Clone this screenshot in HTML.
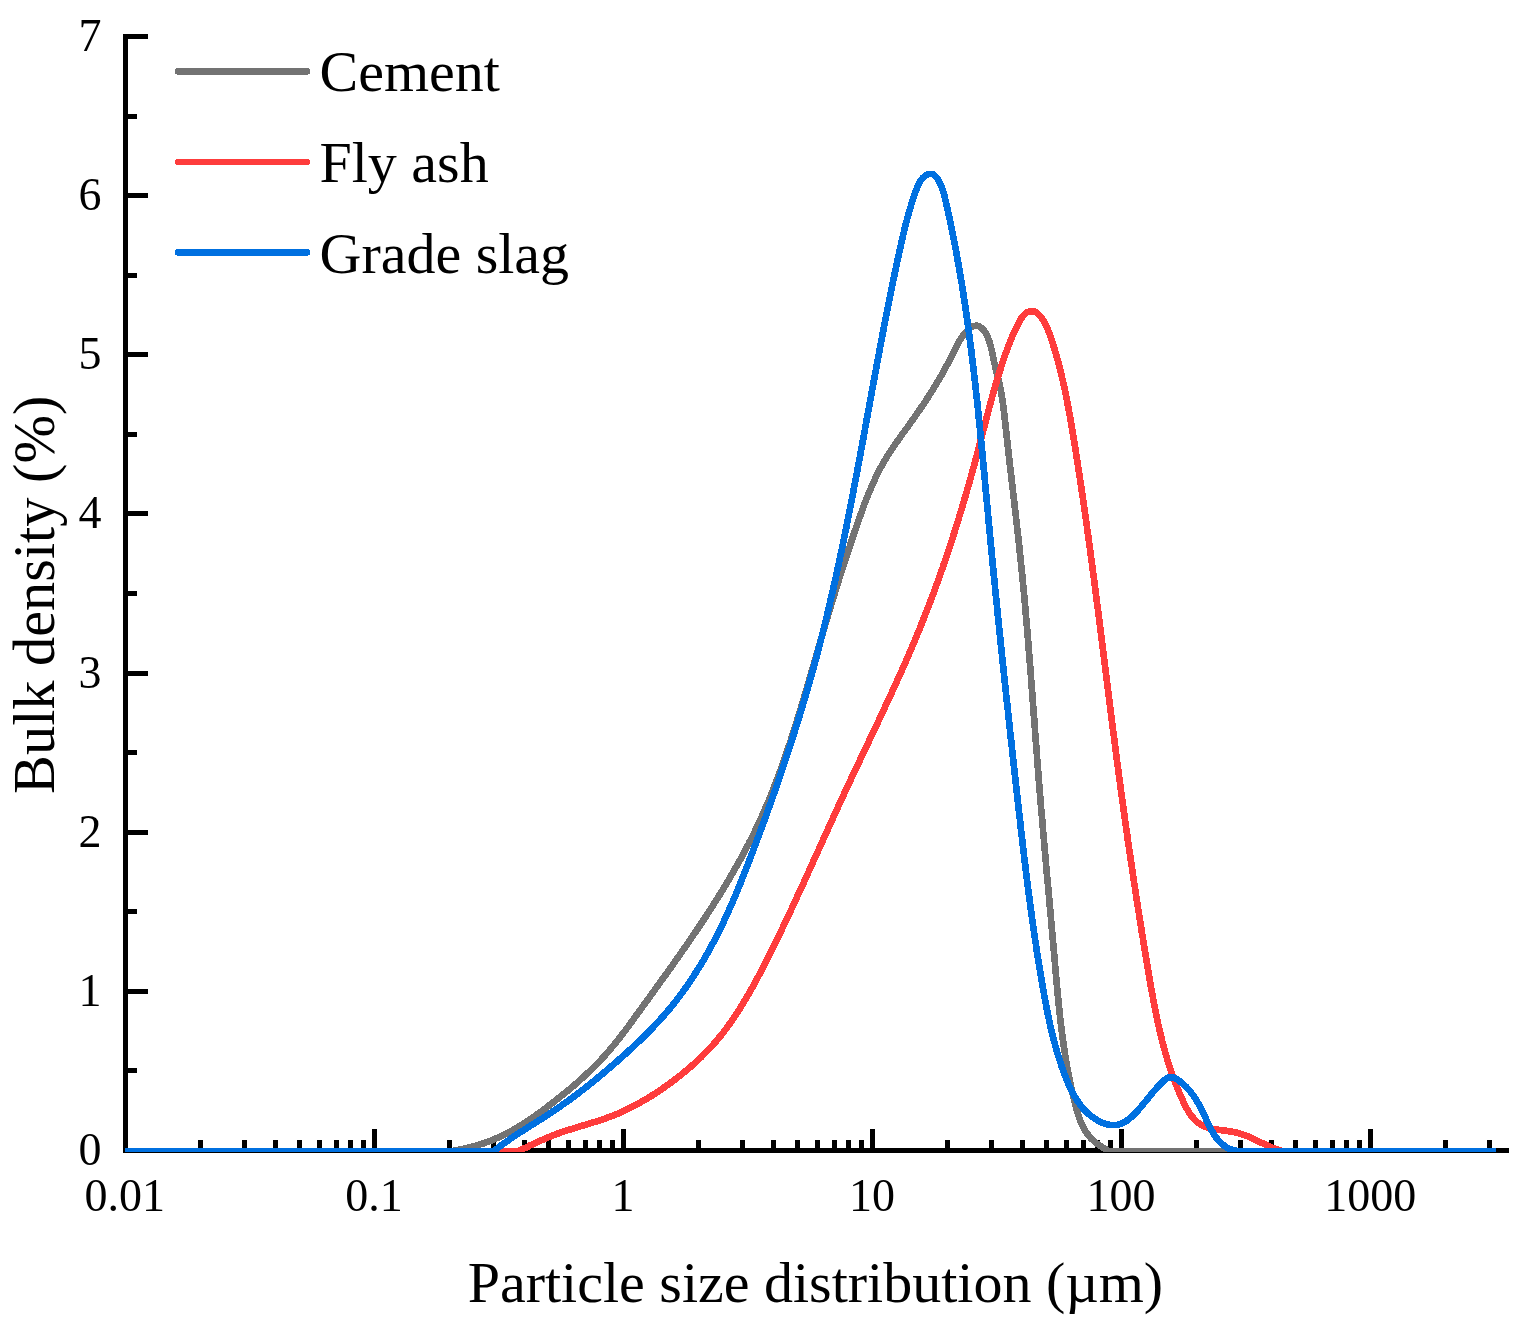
<!DOCTYPE html>
<html><head><meta charset="utf-8"><title>Particle size distribution</title>
<style>html,body{margin:0;padding:0;background:#fff;} svg{display:block;}</style></head>
<body><svg width="1525" height="1329" viewBox="0 0 1525 1329">
<rect width="1525" height="1329" fill="#fff"/>
<g fill="#000" shape-rendering="crispEdges">
<rect x="123" y="34" width="5" height="1119"/>
<rect x="123" y="1148" width="1386" height="5"/>
<rect x="128" y="1148.0" width="20" height="5"/>
<rect x="128" y="988.8" width="20" height="5"/>
<rect x="128" y="829.7" width="20" height="5"/>
<rect x="128" y="670.5" width="20" height="5"/>
<rect x="128" y="511.4" width="20" height="5"/>
<rect x="128" y="352.2" width="20" height="5"/>
<rect x="128" y="193.0" width="20" height="5"/>
<rect x="128" y="33.9" width="20" height="5"/>
<rect x="128" y="1068.4" width="9" height="5"/>
<rect x="128" y="909.3" width="9" height="5"/>
<rect x="128" y="750.1" width="9" height="5"/>
<rect x="128" y="590.9" width="9" height="5"/>
<rect x="128" y="431.8" width="9" height="5"/>
<rect x="128" y="272.6" width="9" height="5"/>
<rect x="128" y="113.5" width="9" height="5"/>
<rect x="198.0" y="1140" width="5" height="8"/>
<rect x="241.8" y="1140" width="5" height="8"/>
<rect x="273.0" y="1140" width="5" height="8"/>
<rect x="297.1" y="1140" width="5" height="8"/>
<rect x="316.8" y="1140" width="5" height="8"/>
<rect x="333.5" y="1140" width="5" height="8"/>
<rect x="347.9" y="1140" width="5" height="8"/>
<rect x="360.7" y="1140" width="5" height="8"/>
<rect x="372.1" y="1129" width="5" height="19"/>
<rect x="447.1" y="1140" width="5" height="8"/>
<rect x="490.9" y="1140" width="5" height="8"/>
<rect x="522.0" y="1140" width="5" height="8"/>
<rect x="546.2" y="1140" width="5" height="8"/>
<rect x="565.9" y="1140" width="5" height="8"/>
<rect x="582.6" y="1140" width="5" height="8"/>
<rect x="597.0" y="1140" width="5" height="8"/>
<rect x="609.8" y="1140" width="5" height="8"/>
<rect x="621.2" y="1129" width="5" height="19"/>
<rect x="696.1" y="1140" width="5" height="8"/>
<rect x="740.0" y="1140" width="5" height="8"/>
<rect x="771.1" y="1140" width="5" height="8"/>
<rect x="795.3" y="1140" width="5" height="8"/>
<rect x="815.0" y="1140" width="5" height="8"/>
<rect x="831.7" y="1140" width="5" height="8"/>
<rect x="846.1" y="1140" width="5" height="8"/>
<rect x="858.8" y="1140" width="5" height="8"/>
<rect x="870.2" y="1129" width="5" height="19"/>
<rect x="945.2" y="1140" width="5" height="8"/>
<rect x="989.1" y="1140" width="5" height="8"/>
<rect x="1020.2" y="1140" width="5" height="8"/>
<rect x="1044.3" y="1140" width="5" height="8"/>
<rect x="1064.1" y="1140" width="5" height="8"/>
<rect x="1080.7" y="1140" width="5" height="8"/>
<rect x="1095.2" y="1140" width="5" height="8"/>
<rect x="1107.9" y="1140" width="5" height="8"/>
<rect x="1119.3" y="1129" width="5" height="19"/>
<rect x="1194.3" y="1140" width="5" height="8"/>
<rect x="1238.2" y="1140" width="5" height="8"/>
<rect x="1269.3" y="1140" width="5" height="8"/>
<rect x="1293.4" y="1140" width="5" height="8"/>
<rect x="1313.1" y="1140" width="5" height="8"/>
<rect x="1329.8" y="1140" width="5" height="8"/>
<rect x="1344.3" y="1140" width="5" height="8"/>
<rect x="1357.0" y="1140" width="5" height="8"/>
<rect x="1368.4" y="1129" width="5" height="19"/>
<rect x="1443.4" y="1140" width="5" height="8"/>
<rect x="1487.2" y="1140" width="5" height="8"/>
</g>
<g font-family="&quot;Liberation Serif&quot;, serif" font-size="46" fill="#000">
<text x="101.5" y="1165.0" text-anchor="end">0</text>
<text x="101.5" y="1005.8" text-anchor="end">1</text>
<text x="101.5" y="846.7" text-anchor="end">2</text>
<text x="101.5" y="687.5" text-anchor="end">3</text>
<text x="101.5" y="528.4" text-anchor="end">4</text>
<text x="101.5" y="369.2" text-anchor="end">5</text>
<text x="101.5" y="210.0" text-anchor="end">6</text>
<text x="101.5" y="50.9" text-anchor="end">7</text>
<text x="124.8" y="1210.5" text-anchor="middle">0.01</text>
<text x="373.9" y="1210.5" text-anchor="middle">0.1</text>
<text x="623.0" y="1210.5" text-anchor="middle">1</text>
<text x="872.0" y="1210.5" text-anchor="middle">10</text>
<text x="1121.1" y="1210.5" text-anchor="middle">100</text>
<text x="1370.2" y="1210.5" text-anchor="middle">1000</text>
</g>
<text x="467.7" y="1302" font-family="&quot;Liberation Serif&quot;, serif" font-size="58">Particle size distribution (µm)</text>
<text transform="translate(54,793.9) rotate(-90)" font-family="&quot;Liberation Serif&quot;, serif" font-size="58.3">Bulk density (%)</text>
<defs><clipPath id="pc"><rect x="125" y="0" width="1400" height="1152"/></clipPath></defs>
<g fill="none" stroke-width="6.7" stroke-linejoin="round" stroke-linecap="butt" clip-path="url(#pc)" shape-rendering="crispEdges">
<path d="M125.0,1151.0 L452.0,1151.0 L452.0,1151.0 L453.5,1150.8 L455.1,1150.5 L456.6,1150.2 L458.1,1149.9 L459.7,1149.6 L461.2,1149.3 L462.7,1149.0 L464.2,1148.7 L465.7,1148.3 L467.3,1148.0 L468.8,1147.6 L470.3,1147.2 L471.8,1146.9 L473.3,1146.4 L474.8,1146.0 L476.3,1145.6 L477.8,1145.2 L479.3,1144.7 L480.7,1144.2 L482.2,1143.8 L483.7,1143.3 L485.1,1142.8 L486.6,1142.2 L488.1,1141.7 L489.5,1141.2 L491.0,1140.6 L492.4,1140.0 L493.8,1139.4 L495.3,1138.8 L496.7,1138.2 L498.1,1137.6 L499.5,1137.0 L500.9,1136.3 L502.3,1135.6 L503.7,1135.0 L505.1,1134.3 L506.5,1133.6 L507.8,1132.9 L509.2,1132.1 L510.5,1131.4 L511.9,1130.7 L513.2,1129.9 L514.6,1129.1 L515.9,1128.3 L517.3,1127.6 L518.6,1126.8 L519.9,1125.9 L521.2,1125.1 L522.5,1124.3 L523.9,1123.5 L525.2,1122.6 L526.5,1121.8 L527.8,1120.9 L529.0,1120.0 L530.3,1119.2 L531.6,1118.3 L532.9,1117.4 L534.2,1116.5 L535.4,1115.6 L536.7,1114.7 L538.0,1113.8 L539.2,1112.9 L540.5,1111.9 L541.8,1111.0 L543.0,1110.1 L544.3,1109.2 L545.5,1108.2 L546.7,1107.3 L548.0,1106.3 L549.2,1105.4 L550.5,1104.4 L551.7,1103.5 L552.9,1102.5 L554.2,1101.6 L555.4,1100.6 L556.6,1099.7 L557.8,1098.7 L559.1,1097.7 L560.3,1096.7 L561.5,1095.8 L562.7,1094.8 L563.9,1093.8 L565.1,1092.8 L566.3,1091.8 L567.5,1090.9 L568.7,1089.9 L569.9,1088.9 L571.1,1087.9 L572.3,1086.9 L573.5,1085.9 L574.7,1084.8 L575.8,1083.8 L577.0,1082.8 L578.2,1081.8 L579.3,1080.8 L580.5,1079.7 L581.6,1078.7 L582.8,1077.6 L583.9,1076.6 L585.1,1075.6 L586.2,1074.5 L587.3,1073.4 L588.4,1072.4 L589.6,1071.3 L590.7,1070.2 L591.8,1069.2 L592.9,1068.1 L594.0,1067.0 L595.1,1065.9 L596.2,1064.8 L597.2,1063.7 L598.3,1062.6 L599.4,1061.4 L600.5,1060.3 L601.5,1059.2 L602.6,1058.1 L603.6,1056.9 L604.6,1055.8 L605.7,1054.6 L606.7,1053.5 L607.7,1052.3 L608.7,1051.1 L609.7,1050.0 L610.7,1048.8 L611.7,1047.6 L612.7,1046.4 L613.7,1045.2 L614.7,1044.0 L615.7,1042.8 L616.6,1041.6 L617.6,1040.4 L618.6,1039.2 L619.5,1037.9 L620.5,1036.7 L621.4,1035.5 L622.4,1034.2 L623.3,1033.0 L624.3,1031.8 L625.2,1030.5 L626.1,1029.3 L627.1,1028.0 L628.0,1026.8 L628.9,1025.5 L629.8,1024.3 L630.8,1023.0 L631.7,1021.8 L632.6,1020.5 L633.5,1019.3 L634.4,1018.0 L635.3,1016.8 L636.2,1015.5 L637.2,1014.2 L638.1,1013.0 L639.0,1011.7 L639.9,1010.4 L640.8,1009.2 L641.7,1007.9 L642.6,1006.7 L643.5,1005.4 L644.5,1004.1 L645.4,1002.9 L646.3,1001.6 L647.2,1000.4 L648.1,999.1 L649.0,997.8 L649.9,996.6 L650.8,995.3 L651.7,994.1 L652.7,992.8 L653.6,991.5 L654.5,990.3 L655.4,989.0 L656.3,987.8 L657.2,986.5 L658.1,985.2 L659.0,984.0 L659.9,982.7 L660.8,981.5 L661.7,980.2 L662.6,978.9 L663.5,977.7 L664.4,976.4 L665.4,975.2 L666.3,973.9 L667.2,972.6 L668.1,971.4 L669.0,970.1 L669.9,968.8 L670.8,967.6 L671.7,966.3 L672.6,965.0 L673.5,963.8 L674.3,962.5 L675.2,961.2 L676.1,960.0 L677.0,958.7 L677.9,957.4 L678.8,956.2 L679.7,954.9 L680.6,953.6 L681.5,952.4 L682.4,951.1 L683.3,949.8 L684.1,948.5 L685.0,947.3 L685.9,946.0 L686.8,944.7 L687.7,943.4 L688.6,942.2 L689.4,940.9 L690.3,939.6 L691.2,938.3 L692.1,937.0 L692.9,935.7 L693.8,934.5 L694.7,933.2 L695.6,931.9 L696.4,930.6 L697.3,929.3 L698.2,928.0 L699.0,926.7 L699.9,925.4 L700.7,924.2 L701.6,922.9 L702.5,921.6 L703.3,920.3 L704.2,919.0 L705.0,917.7 L705.9,916.4 L706.7,915.1 L707.6,913.8 L708.4,912.5 L709.3,911.2 L710.1,909.8 L710.9,908.5 L711.8,907.2 L712.6,905.9 L713.5,904.6 L714.3,903.3 L715.1,902.0 L715.9,900.7 L716.8,899.3 L717.6,898.0 L718.4,896.7 L719.2,895.4 L720.1,894.1 L720.9,892.7 L721.7,891.4 L722.5,890.1 L723.3,888.7 L724.1,887.4 L724.9,886.1 L725.7,884.8 L726.5,883.4 L727.3,882.1 L728.1,880.7 L728.9,879.4 L729.7,878.1 L730.5,876.7 L731.3,875.4 L732.0,874.0 L732.8,872.7 L733.6,871.3 L734.4,870.0 L735.1,868.6 L735.9,867.3 L736.7,865.9 L737.4,864.6 L738.2,863.2 L739.0,861.8 L739.7,860.5 L740.5,859.1 L741.2,857.8 L741.9,856.4 L742.7,855.0 L743.4,853.6 L744.2,852.3 L744.9,850.9 L745.6,849.5 L746.3,848.2 L747.1,846.8 L747.8,845.4 L748.5,844.0 L749.2,842.6 L749.9,841.2 L750.6,839.9 L751.3,838.5 L752.0,837.1 L752.7,835.7 L753.4,834.3 L754.1,832.9 L754.8,831.5 L755.4,830.1 L756.1,828.7 L756.8,827.3 L757.4,825.9 L758.1,824.5 L758.8,823.1 L759.4,821.7 L760.1,820.3 L760.7,818.9 L761.4,817.5 L762.0,816.1 L762.6,814.6 L763.3,813.2 L763.9,811.8 L764.5,810.4 L765.1,809.0 L765.7,807.5 L766.4,806.1 L767.0,804.7 L767.6,803.2 L768.2,801.8 L768.8,800.4 L769.4,799.0 L769.9,797.5 L770.5,796.1 L771.1,794.6 L771.7,793.2 L772.3,791.8 L772.8,790.3 L773.4,788.9 L774.0,787.4 L774.5,786.0 L775.1,784.5 L775.7,783.1 L776.2,781.6 L776.8,780.2 L777.3,778.7 L777.9,777.3 L778.4,775.8 L778.9,774.4 L779.5,772.9 L780.0,771.5 L780.6,770.0 L781.1,768.5 L781.6,767.1 L782.1,765.6 L782.7,764.2 L783.2,762.7 L783.7,761.2 L784.2,759.8 L784.7,758.3 L785.2,756.8 L785.7,755.4 L786.2,753.9 L786.7,752.4 L787.2,751.0 L787.7,749.5 L788.2,748.0 L788.7,746.5 L789.2,745.1 L789.7,743.6 L790.2,742.1 L790.7,740.6 L791.1,739.2 L791.6,737.7 L792.1,736.2 L792.6,734.7 L793.1,733.2 L793.5,731.8 L794.0,730.3 L794.5,728.8 L794.9,727.3 L795.4,725.8 L795.9,724.3 L796.3,722.9 L796.8,721.4 L797.3,719.9 L797.7,718.4 L798.2,716.9 L798.6,715.4 L799.1,713.9 L799.6,712.5 L800.0,711.0 L800.5,709.5 L800.9,708.0 L801.4,706.5 L801.8,705.0 L802.3,703.5 L802.7,702.0 L803.2,700.5 L803.6,699.0 L804.0,697.6 L804.5,696.1 L804.9,694.6 L805.4,693.1 L805.8,691.6 L806.3,690.1 L806.7,688.6 L807.1,687.1 L807.6,685.6 L808.0,684.1 L808.4,682.6 L808.9,681.1 L809.3,679.7 L809.8,678.2 L810.2,676.7 L810.6,675.2 L811.1,673.7 L811.5,672.2 L811.9,670.7 L812.4,669.2 L812.8,667.7 L813.2,666.2 L813.7,664.7 L814.1,663.2 L814.5,661.7 L815.0,660.2 L815.4,658.8 L815.8,657.3 L816.2,655.8 L816.7,654.3 L817.1,652.8 L817.5,651.3 L818.0,649.8 L818.4,648.3 L818.8,646.8 L819.3,645.3 L819.7,643.8 L820.1,642.3 L820.6,640.8 L821.0,639.4 L821.4,637.9 L821.9,636.4 L822.3,634.9 L822.7,633.4 L823.2,631.9 L823.6,630.4 L824.0,628.9 L824.5,627.4 L824.9,625.9 L825.3,624.4 L825.8,623.0 L826.2,621.5 L826.7,620.0 L827.1,618.5 L827.5,617.0 L828.0,615.5 L828.4,614.0 L828.9,612.5 L829.3,611.1 L829.8,609.6 L830.2,608.1 L830.7,606.6 L831.1,605.1 L831.5,603.6 L832.0,602.2 L832.4,600.7 L832.9,599.2 L833.4,597.7 L833.8,596.2 L834.3,594.7 L834.7,593.3 L835.2,591.8 L835.6,590.3 L836.1,588.8 L836.5,587.3 L837.0,585.9 L837.5,584.4 L837.9,582.9 L838.4,581.4 L838.9,579.9 L839.3,578.5 L839.8,577.0 L840.3,575.5 L840.7,574.0 L841.2,572.6 L841.7,571.1 L842.1,569.6 L842.6,568.1 L843.1,566.6 L843.6,565.2 L844.1,563.7 L844.5,562.2 L845.0,560.7 L845.5,559.3 L846.0,557.8 L846.5,556.3 L846.9,554.8 L847.4,553.4 L847.9,551.9 L848.4,550.4 L848.9,548.9 L849.4,547.5 L849.9,546.0 L850.4,544.5 L850.8,543.0 L851.3,541.6 L851.8,540.1 L852.3,538.6 L852.8,537.1 L853.3,535.6 L853.8,534.2 L854.3,532.7 L854.8,531.2 L855.3,529.7 L855.8,528.3 L856.3,526.8 L856.8,525.3 L857.4,523.8 L857.9,522.4 L858.4,520.9 L858.9,519.4 L859.4,517.9 L859.9,516.5 L860.5,515.0 L861.0,513.5 L861.5,512.1 L862.1,510.6 L862.6,509.1 L863.1,507.7 L863.7,506.2 L864.2,504.7 L864.8,503.3 L865.3,501.8 L865.9,500.4 L866.5,498.9 L867.0,497.5 L867.6,496.0 L868.2,494.6 L868.8,493.1 L869.4,491.7 L870.0,490.3 L870.6,488.8 L871.2,487.4 L871.8,486.0 L872.5,484.6 L873.1,483.1 L873.8,481.7 L874.4,480.3 L875.1,478.9 L875.7,477.5 L876.4,476.1 L877.1,474.7 L877.8,473.3 L878.5,472.0 L879.2,470.6 L879.9,469.2 L880.6,467.8 L881.3,466.5 L882.1,465.1 L882.8,463.8 L883.6,462.4 L884.4,461.1 L885.2,459.8 L886.0,458.4 L886.8,457.1 L887.6,455.8 L888.4,454.5 L889.2,453.2 L890.1,451.9 L890.9,450.6 L891.8,449.3 L892.6,448.0 L893.5,446.7 L894.3,445.5 L895.2,444.2 L896.1,442.9 L897.0,441.6 L897.9,440.4 L898.8,439.1 L899.7,437.8 L900.6,436.6 L901.5,435.3 L902.4,434.1 L903.3,432.8 L904.2,431.5 L905.1,430.3 L906.0,429.0 L907.0,427.8 L907.9,426.5 L908.8,425.2 L909.7,424.0 L910.6,422.7 L911.5,421.4 L912.4,420.2 L913.3,418.9 L914.2,417.6 L915.1,416.3 L916.0,415.0 L916.9,413.8 L917.8,412.5 L918.7,411.2 L919.6,409.9 L920.5,408.6 L921.3,407.3 L922.2,406.0 L923.1,404.7 L924.0,403.4 L924.8,402.1 L925.7,400.8 L926.5,399.5 L927.4,398.2 L928.2,396.9 L929.1,395.6 L929.9,394.3 L930.7,393.0 L931.6,391.6 L932.4,390.3 L933.2,389.0 L934.0,387.7 L934.8,386.4 L935.6,385.1 L936.4,383.7 L937.2,382.4 L938.0,381.1 L938.8,379.8 L939.5,378.5 L940.3,377.1 L941.1,375.8 L941.8,374.5 L942.6,373.2 L943.3,371.8 L944.0,370.5 L944.8,369.1 L945.5,367.8 L946.2,366.5 L947.0,365.1 L947.7,363.7 L948.4,362.4 L949.1,361.0 L949.8,359.6 L950.5,358.2 L951.3,356.8 L952.0,355.4 L952.7,354.0 L953.4,352.5 L954.1,351.1 L954.8,349.7 L955.5,348.2 L956.3,346.8 L957.0,345.4 L957.8,343.9 L958.5,342.5 L959.4,341.1 L960.2,339.8 L961.0,338.4 L961.9,337.1 L962.8,335.8 L963.8,334.5 L964.8,333.3 L965.8,332.1 L966.9,330.9 L968.0,329.8 L969.1,328.8 L970.3,327.9 L971.5,327.1 L973.9,326.0 L976.4,325.6 L978.8,326.2 L981.1,327.7 L982.2,328.6 L983.3,329.8 L984.3,331.0 L985.2,332.4 L986.0,333.8 L986.8,335.3 L987.6,336.9 L988.2,338.5 L988.9,340.0 L989.4,341.6 L989.9,343.1 L990.3,344.7 L990.7,346.2 L991.1,347.7 L991.5,349.3 L991.8,350.8 L992.1,352.3 L992.4,353.8 L992.7,355.3 L993.0,356.8 L993.3,358.3 L993.6,359.8 L994.0,361.3 L994.3,362.8 L994.7,364.3 L995.0,365.8 L995.4,367.3 L995.8,368.9 L996.1,370.4 L996.5,371.9 L996.9,373.4 L997.2,374.9 L997.6,376.4 L998.0,377.9 L998.4,379.4 L998.7,380.9 L999.1,382.4 L999.4,383.9 L999.8,385.5 L1000.1,387.0 L1000.4,388.5 L1000.7,390.0 L1001.0,391.5 L1001.3,393.1 L1001.6,394.6 L1001.8,396.1 L1002.1,397.7 L1002.3,399.2 L1002.5,400.7 L1002.8,402.3 L1003.0,403.8 L1003.2,405.3 L1003.4,406.9 L1003.6,408.4 L1003.8,410.0 L1004.0,411.5 L1004.2,413.0 L1004.3,414.6 L1004.5,416.1 L1004.7,417.7 L1004.8,419.2 L1005.0,420.8 L1005.2,422.3 L1005.3,423.9 L1005.5,425.4 L1005.7,426.9 L1005.8,428.5 L1006.0,430.0 L1006.2,431.6 L1006.3,433.1 L1006.5,434.7 L1006.7,436.2 L1006.9,437.8 L1007.0,439.3 L1007.2,440.8 L1007.4,442.4 L1007.5,443.9 L1007.7,445.5 L1007.9,447.0 L1008.1,448.6 L1008.2,450.1 L1008.4,451.7 L1008.6,453.2 L1008.8,454.7 L1008.9,456.3 L1009.1,457.8 L1009.3,459.4 L1009.5,460.9 L1009.7,462.5 L1009.8,464.0 L1010.0,465.5 L1010.2,467.1 L1010.4,468.6 L1010.5,470.2 L1010.7,471.7 L1010.9,473.3 L1011.1,474.8 L1011.3,476.4 L1011.4,477.9 L1011.6,479.4 L1011.8,481.0 L1012.0,482.5 L1012.2,484.1 L1012.3,485.6 L1012.5,487.2 L1012.7,488.7 L1012.9,490.2 L1013.0,491.8 L1013.2,493.3 L1013.4,494.9 L1013.6,496.4 L1013.8,498.0 L1013.9,499.5 L1014.1,501.1 L1014.3,502.6 L1014.5,504.1 L1014.7,505.7 L1014.8,507.2 L1015.0,508.8 L1015.2,510.3 L1015.4,511.9 L1015.5,513.4 L1015.7,514.9 L1015.9,516.5 L1016.1,518.0 L1016.2,519.6 L1016.4,521.1 L1016.6,522.7 L1016.8,524.2 L1016.9,525.8 L1017.1,527.3 L1017.3,528.8 L1017.5,530.4 L1017.6,531.9 L1017.8,533.5 L1018.0,535.0 L1018.2,536.6 L1018.3,538.1 L1018.5,539.7 L1018.7,541.2 L1018.8,542.7 L1019.0,544.3 L1019.2,545.8 L1019.3,547.4 L1019.5,548.9 L1019.7,550.5 L1019.8,552.0 L1020.0,553.6 L1020.2,555.1 L1020.3,556.6 L1020.5,558.2 L1020.7,559.7 L1020.8,561.3 L1021.0,562.8 L1021.1,564.4 L1021.3,565.9 L1021.4,567.5 L1021.6,569.0 L1021.8,570.6 L1021.9,572.1 L1022.1,573.7 L1022.2,575.2 L1022.4,576.7 L1022.5,578.3 L1022.7,579.8 L1022.8,581.4 L1023.0,582.9 L1023.1,584.5 L1023.3,586.0 L1023.4,587.6 L1023.6,589.1 L1023.7,590.7 L1023.9,592.2 L1024.0,593.8 L1024.2,595.3 L1024.3,596.9 L1024.4,598.4 L1024.6,600.0 L1024.7,601.5 L1024.9,603.0 L1025.0,604.6 L1025.1,606.1 L1025.3,607.7 L1025.4,609.2 L1025.6,610.8 L1025.7,612.3 L1025.8,613.9 L1026.0,615.4 L1026.1,617.0 L1026.2,618.5 L1026.4,620.1 L1026.5,621.6 L1026.6,623.2 L1026.8,624.7 L1026.9,626.3 L1027.0,627.8 L1027.2,629.4 L1027.3,630.9 L1027.4,632.5 L1027.5,634.0 L1027.7,635.6 L1027.8,637.1 L1027.9,638.7 L1028.1,640.2 L1028.2,641.8 L1028.3,643.3 L1028.4,644.9 L1028.6,646.4 L1028.7,648.0 L1028.8,649.5 L1028.9,651.1 L1029.1,652.6 L1029.2,654.2 L1029.3,655.7 L1029.4,657.3 L1029.6,658.8 L1029.7,660.4 L1029.8,661.9 L1029.9,663.5 L1030.0,665.0 L1030.2,666.6 L1030.3,668.1 L1030.4,669.7 L1030.5,671.2 L1030.7,672.8 L1030.8,674.3 L1030.9,675.8 L1031.0,677.4 L1031.1,678.9 L1031.2,680.5 L1031.4,682.0 L1031.5,683.6 L1031.6,685.1 L1031.7,686.7 L1031.8,688.2 L1032.0,689.8 L1032.1,691.3 L1032.2,692.9 L1032.3,694.4 L1032.4,696.0 L1032.5,697.5 L1032.7,699.1 L1032.8,700.6 L1032.9,702.2 L1033.0,703.7 L1033.1,705.3 L1033.2,706.8 L1033.4,708.4 L1033.5,709.9 L1033.6,711.5 L1033.7,713.0 L1033.8,714.6 L1033.9,716.1 L1034.1,717.7 L1034.2,719.2 L1034.3,720.8 L1034.4,722.3 L1034.5,723.9 L1034.6,725.4 L1034.8,727.0 L1034.9,728.5 L1035.0,730.1 L1035.1,731.6 L1035.2,733.2 L1035.3,734.7 L1035.5,736.3 L1035.6,737.8 L1035.7,739.4 L1035.8,740.9 L1035.9,742.5 L1036.1,744.0 L1036.2,745.6 L1036.3,747.1 L1036.4,748.7 L1036.5,750.2 L1036.6,751.8 L1036.8,753.3 L1036.9,754.9 L1037.0,756.4 L1037.1,758.0 L1037.2,759.5 L1037.4,761.1 L1037.5,762.6 L1037.6,764.2 L1037.7,765.7 L1037.8,767.3 L1038.0,768.8 L1038.1,770.4 L1038.2,771.9 L1038.3,773.5 L1038.4,775.0 L1038.6,776.6 L1038.7,778.1 L1038.8,779.7 L1038.9,781.2 L1039.1,782.8 L1039.2,784.3 L1039.3,785.9 L1039.4,787.4 L1039.6,789.0 L1039.7,790.5 L1039.8,792.1 L1039.9,793.6 L1040.1,795.2 L1040.2,796.7 L1040.3,798.3 L1040.5,799.8 L1040.6,801.3 L1040.7,802.9 L1040.8,804.4 L1041.0,806.0 L1041.1,807.5 L1041.2,809.1 L1041.4,810.6 L1041.5,812.2 L1041.6,813.7 L1041.8,815.3 L1041.9,816.8 L1042.0,818.4 L1042.2,819.9 L1042.3,821.5 L1042.4,823.0 L1042.6,824.6 L1042.7,826.1 L1042.8,827.7 L1043.0,829.2 L1043.1,830.8 L1043.2,832.3 L1043.4,833.8 L1043.5,835.4 L1043.6,836.9 L1043.8,838.5 L1043.9,840.0 L1044.0,841.6 L1044.2,843.1 L1044.3,844.7 L1044.4,846.2 L1044.6,847.8 L1044.7,849.3 L1044.9,850.9 L1045.0,852.4 L1045.1,854.0 L1045.3,855.5 L1045.4,857.1 L1045.5,858.6 L1045.7,860.1 L1045.8,861.7 L1046.0,863.2 L1046.1,864.8 L1046.2,866.3 L1046.4,867.9 L1046.5,869.4 L1046.7,871.0 L1046.8,872.5 L1046.9,874.1 L1047.1,875.6 L1047.2,877.2 L1047.4,878.7 L1047.5,880.3 L1047.6,881.8 L1047.8,883.4 L1047.9,884.9 L1048.1,886.4 L1048.2,888.0 L1048.3,889.5 L1048.5,891.1 L1048.6,892.6 L1048.8,894.2 L1048.9,895.7 L1049.0,897.3 L1049.2,898.8 L1049.3,900.4 L1049.5,901.9 L1049.6,903.5 L1049.7,905.0 L1049.9,906.6 L1050.0,908.1 L1050.2,909.7 L1050.3,911.2 L1050.4,912.8 L1050.6,914.3 L1050.7,915.8 L1050.9,917.4 L1051.0,918.9 L1051.1,920.5 L1051.3,922.0 L1051.4,923.6 L1051.6,925.1 L1051.7,926.7 L1051.8,928.2 L1052.0,929.8 L1052.1,931.3 L1052.3,932.9 L1052.4,934.4 L1052.5,936.0 L1052.7,937.5 L1052.8,939.1 L1052.9,940.6 L1053.1,942.2 L1053.2,943.7 L1053.4,945.3 L1053.5,946.8 L1053.6,948.4 L1053.8,949.9 L1053.9,951.5 L1054.1,953.0 L1054.2,954.6 L1054.3,956.1 L1054.5,957.7 L1054.6,959.2 L1054.7,960.8 L1054.9,962.3 L1055.0,963.9 L1055.1,965.4 L1055.3,967.0 L1055.4,968.5 L1055.5,970.1 L1055.7,971.6 L1055.8,973.2 L1056.0,974.7 L1056.1,976.3 L1056.2,977.8 L1056.4,979.4 L1056.5,980.9 L1056.7,982.5 L1056.8,984.0 L1056.9,985.6 L1057.1,987.1 L1057.2,988.7 L1057.4,990.2 L1057.5,991.8 L1057.7,993.3 L1057.8,994.9 L1058.0,996.4 L1058.1,998.0 L1058.3,999.5 L1058.4,1001.1 L1058.6,1002.6 L1058.7,1004.2 L1058.9,1005.7 L1059.0,1007.3 L1059.2,1008.8 L1059.4,1010.3 L1059.5,1011.9 L1059.7,1013.4 L1059.9,1015.0 L1060.0,1016.5 L1060.2,1018.1 L1060.4,1019.6 L1060.6,1021.2 L1060.7,1022.7 L1060.9,1024.2 L1061.1,1025.8 L1061.3,1027.3 L1061.5,1028.9 L1061.7,1030.4 L1061.9,1032.0 L1062.1,1033.5 L1062.3,1035.0 L1062.5,1036.6 L1062.7,1038.1 L1062.9,1039.7 L1063.1,1041.2 L1063.3,1042.7 L1063.5,1044.3 L1063.7,1045.8 L1064.0,1047.3 L1064.2,1048.9 L1064.4,1050.4 L1064.7,1052.0 L1064.9,1053.5 L1065.1,1055.0 L1065.4,1056.6 L1065.6,1058.1 L1065.9,1059.6 L1066.1,1061.1 L1066.4,1062.7 L1066.7,1064.2 L1066.9,1065.7 L1067.2,1067.3 L1067.5,1068.8 L1067.8,1070.3 L1068.0,1071.8 L1068.3,1073.4 L1068.6,1074.9 L1068.9,1076.4 L1069.2,1077.9 L1069.5,1079.5 L1069.8,1081.0 L1070.2,1082.5 L1070.5,1084.0 L1070.8,1085.5 L1071.1,1087.0 L1071.5,1088.6 L1071.8,1090.1 L1072.2,1091.6 L1072.5,1093.1 L1072.9,1094.6 L1073.2,1096.1 L1073.6,1097.6 L1074.0,1099.2 L1074.3,1100.7 L1074.7,1102.2 L1075.1,1103.7 L1075.5,1105.2 L1075.9,1106.7 L1076.3,1108.2 L1076.7,1109.7 L1077.2,1111.2 L1077.6,1112.7 L1078.1,1114.2 L1078.5,1115.6 L1079.0,1117.1 L1079.5,1118.6 L1080.1,1120.0 L1080.6,1121.4 L1081.2,1122.8 L1081.8,1124.2 L1082.5,1125.6 L1083.2,1127.0 L1083.9,1128.3 L1084.6,1129.7 L1085.4,1131.0 L1086.3,1132.3 L1087.1,1133.5 L1088.1,1134.8 L1089.0,1136.0 L1090.0,1137.2 L1091.1,1138.4 L1092.2,1139.5 L1093.4,1140.6 L1094.6,1141.7 L1095.8,1142.7 L1097.1,1143.7 L1098.4,1144.7 L1099.8,1145.6 L1101.1,1146.5 L1102.5,1147.4 L1103.8,1148.2 L1105.1,1149.0 L1106.4,1149.7 L1107.7,1150.4 L1109.0,1151.0 L1496.0,1151.0" stroke="#737373"/>
<path d="M125.0,1151.0 L519.0,1151.0 L519.0,1151.0 L520.4,1150.3 L521.9,1149.5 L523.4,1148.8 L524.8,1148.1 L526.3,1147.4 L527.7,1146.7 L529.2,1145.9 L530.6,1145.2 L532.1,1144.5 L533.6,1143.8 L535.0,1143.2 L536.5,1142.5 L538.0,1141.8 L539.5,1141.1 L540.9,1140.5 L542.4,1139.8 L543.9,1139.2 L545.4,1138.5 L546.9,1137.9 L548.4,1137.3 L549.9,1136.7 L551.4,1136.1 L552.9,1135.5 L554.4,1134.9 L555.9,1134.3 L557.5,1133.7 L559.0,1133.2 L560.5,1132.6 L562.1,1132.1 L563.6,1131.6 L565.1,1131.1 L566.7,1130.5 L568.2,1130.0 L569.8,1129.5 L571.3,1129.1 L572.9,1128.6 L574.5,1128.1 L576.0,1127.6 L577.6,1127.1 L579.2,1126.7 L580.7,1126.2 L582.3,1125.7 L583.9,1125.3 L585.4,1124.8 L587.0,1124.3 L588.6,1123.9 L590.1,1123.4 L591.7,1122.9 L593.2,1122.4 L594.8,1121.9 L596.4,1121.5 L597.9,1121.0 L599.5,1120.4 L601.0,1119.9 L602.6,1119.4 L604.1,1118.9 L605.6,1118.3 L607.2,1117.8 L608.7,1117.2 L610.2,1116.7 L611.7,1116.1 L613.3,1115.5 L614.8,1114.9 L616.3,1114.2 L617.8,1113.6 L619.3,1113.0 L620.8,1112.3 L622.2,1111.6 L623.7,1111.0 L625.2,1110.3 L626.7,1109.6 L628.1,1108.9 L629.6,1108.1 L631.0,1107.4 L632.5,1106.7 L633.9,1105.9 L635.4,1105.1 L636.8,1104.4 L638.3,1103.6 L639.7,1102.8 L641.1,1102.0 L642.5,1101.2 L643.9,1100.4 L645.3,1099.5 L646.7,1098.7 L648.1,1097.9 L649.5,1097.0 L650.9,1096.2 L652.3,1095.3 L653.7,1094.4 L655.1,1093.5 L656.4,1092.6 L657.8,1091.7 L659.2,1090.8 L660.5,1089.9 L661.9,1089.0 L663.2,1088.1 L664.6,1087.1 L665.9,1086.2 L667.2,1085.2 L668.6,1084.3 L669.9,1083.3 L671.2,1082.3 L672.5,1081.4 L673.8,1080.4 L675.1,1079.4 L676.4,1078.4 L677.7,1077.4 L679.0,1076.4 L680.3,1075.4 L681.6,1074.4 L682.9,1073.3 L684.1,1072.3 L685.4,1071.2 L686.6,1070.2 L687.9,1069.1 L689.1,1068.1 L690.4,1067.0 L691.6,1065.9 L692.8,1064.9 L694.0,1063.8 L695.2,1062.7 L696.4,1061.6 L697.6,1060.5 L698.8,1059.3 L700.0,1058.2 L701.2,1057.1 L702.3,1055.9 L703.5,1054.8 L704.6,1053.6 L705.8,1052.5 L706.9,1051.3 L708.0,1050.1 L709.2,1049.0 L710.3,1047.8 L711.4,1046.6 L712.5,1045.4 L713.5,1044.2 L714.6,1042.9 L715.7,1041.7 L716.7,1040.5 L717.8,1039.2 L718.8,1038.0 L719.8,1036.7 L720.9,1035.5 L721.9,1034.2 L722.9,1032.9 L723.9,1031.7 L724.9,1030.4 L725.8,1029.1 L726.8,1027.8 L727.8,1026.5 L728.7,1025.2 L729.7,1023.8 L730.6,1022.5 L731.5,1021.2 L732.5,1019.8 L733.4,1018.5 L734.3,1017.2 L735.2,1015.8 L736.1,1014.5 L737.0,1013.1 L737.9,1011.7 L738.8,1010.4 L739.6,1009.0 L740.5,1007.6 L741.4,1006.2 L742.2,1004.8 L743.1,1003.4 L743.9,1002.0 L744.7,1000.6 L745.6,999.2 L746.4,997.8 L747.2,996.4 L748.1,995.0 L748.9,993.6 L749.7,992.2 L750.5,990.8 L751.3,989.3 L752.1,987.9 L752.9,986.5 L753.7,985.0 L754.4,983.6 L755.2,982.1 L756.0,980.7 L756.8,979.3 L757.6,977.8 L758.3,976.4 L759.1,974.9 L759.8,973.5 L760.6,972.0 L761.4,970.6 L762.1,969.1 L762.9,967.6 L763.6,966.2 L764.4,964.7 L765.1,963.3 L765.8,961.8 L766.6,960.3 L767.3,958.9 L768.1,957.4 L768.8,955.9 L769.5,954.5 L770.3,953.0 L771.0,951.5 L771.7,950.1 L772.4,948.6 L773.2,947.1 L773.9,945.7 L774.6,944.2 L775.3,942.7 L776.1,941.3 L776.8,939.8 L777.5,938.3 L778.2,936.9 L778.9,935.4 L779.6,933.9 L780.3,932.5 L781.1,931.0 L781.8,929.5 L782.5,928.0 L783.2,926.6 L783.9,925.1 L784.6,923.6 L785.3,922.1 L786.0,920.7 L786.7,919.2 L787.4,917.7 L788.1,916.2 L788.8,914.8 L789.5,913.3 L790.2,911.8 L790.9,910.3 L791.6,908.8 L792.2,907.4 L792.9,905.9 L793.6,904.4 L794.3,902.9 L795.0,901.5 L795.7,900.0 L796.4,898.5 L797.1,897.0 L797.7,895.5 L798.4,894.1 L799.1,892.6 L799.8,891.1 L800.5,889.6 L801.2,888.1 L801.8,886.6 L802.5,885.2 L803.2,883.7 L803.9,882.2 L804.6,880.7 L805.2,879.2 L805.9,877.8 L806.6,876.3 L807.3,874.8 L807.9,873.3 L808.6,871.8 L809.3,870.3 L810.0,868.9 L810.6,867.4 L811.3,865.9 L812.0,864.4 L812.7,862.9 L813.3,861.4 L814.0,859.9 L814.7,858.5 L815.4,857.0 L816.0,855.5 L816.7,854.0 L817.4,852.5 L818.0,851.0 L818.7,849.6 L819.4,848.1 L820.1,846.6 L820.7,845.1 L821.4,843.6 L822.1,842.1 L822.7,840.6 L823.4,839.2 L824.1,837.7 L824.8,836.2 L825.4,834.7 L826.1,833.2 L826.8,831.7 L827.5,830.3 L828.1,828.8 L828.8,827.3 L829.5,825.8 L830.1,824.3 L830.8,822.8 L831.5,821.4 L832.2,819.9 L832.8,818.4 L833.5,816.9 L834.2,815.4 L834.9,813.9 L835.6,812.5 L836.2,811.0 L836.9,809.5 L837.6,808.0 L838.3,806.5 L838.9,805.0 L839.6,803.6 L840.3,802.1 L841.0,800.6 L841.7,799.1 L842.4,797.6 L843.0,796.2 L843.7,794.7 L844.4,793.2 L845.1,791.7 L845.8,790.2 L846.5,788.8 L847.2,787.3 L847.9,785.8 L848.5,784.3 L849.2,782.8 L849.9,781.4 L850.6,779.9 L851.3,778.4 L852.0,776.9 L852.7,775.4 L853.4,774.0 L854.1,772.5 L854.8,771.0 L855.5,769.5 L856.2,768.1 L856.9,766.6 L857.6,765.1 L858.3,763.6 L859.0,762.2 L859.7,760.7 L860.4,759.2 L861.1,757.7 L861.8,756.3 L862.5,754.8 L863.2,753.3 L863.9,751.8 L864.6,750.3 L865.3,748.9 L866.0,747.4 L866.7,745.9 L867.4,744.4 L868.1,743.0 L868.8,741.5 L869.5,740.0 L870.2,738.5 L870.9,737.1 L871.6,735.6 L872.3,734.1 L873.0,732.6 L873.7,731.2 L874.4,729.7 L875.1,728.2 L875.8,726.7 L876.5,725.2 L877.2,723.8 L877.9,722.3 L878.6,720.8 L879.3,719.3 L880.0,717.9 L880.7,716.4 L881.4,714.9 L882.0,713.4 L882.7,711.9 L883.4,710.5 L884.1,709.0 L884.8,707.5 L885.5,706.0 L886.2,704.5 L886.9,703.1 L887.6,701.6 L888.3,700.1 L889.0,698.6 L889.6,697.1 L890.3,695.6 L891.0,694.2 L891.7,692.7 L892.4,691.2 L893.1,689.7 L893.7,688.2 L894.4,686.7 L895.1,685.3 L895.8,683.8 L896.5,682.3 L897.1,680.8 L897.8,679.3 L898.5,677.8 L899.1,676.3 L899.8,674.8 L900.5,673.3 L901.2,671.9 L901.8,670.4 L902.5,668.9 L903.1,667.4 L903.8,665.9 L904.5,664.4 L905.1,662.9 L905.8,661.4 L906.4,659.9 L907.1,658.4 L907.7,656.9 L908.4,655.4 L909.0,653.9 L909.7,652.4 L910.3,650.9 L911.0,649.4 L911.6,647.9 L912.3,646.4 L912.9,644.9 L913.5,643.4 L914.2,641.9 L914.8,640.4 L915.4,638.9 L916.1,637.4 L916.7,635.9 L917.3,634.4 L917.9,632.9 L918.6,631.4 L919.2,629.9 L919.8,628.4 L920.4,626.8 L921.0,625.3 L921.6,623.8 L922.2,622.3 L922.8,620.8 L923.4,619.3 L924.0,617.8 L924.6,616.2 L925.2,614.7 L925.8,613.2 L926.4,611.7 L927.0,610.2 L927.6,608.6 L928.2,607.1 L928.8,605.6 L929.4,604.1 L929.9,602.6 L930.5,601.0 L931.1,599.5 L931.7,598.0 L932.2,596.5 L932.8,594.9 L933.4,593.4 L934.0,591.9 L934.5,590.3 L935.1,588.8 L935.6,587.3 L936.2,585.7 L936.8,584.2 L937.3,582.7 L937.9,581.1 L938.4,579.6 L939.0,578.1 L939.5,576.5 L940.1,575.0 L940.6,573.5 L941.1,571.9 L941.7,570.4 L942.2,568.8 L942.8,567.3 L943.3,565.8 L943.8,564.2 L944.3,562.7 L944.9,561.1 L945.4,559.6 L945.9,558.0 L946.5,556.5 L947.0,555.0 L947.5,553.4 L948.0,551.9 L948.5,550.3 L949.0,548.8 L949.6,547.2 L950.1,545.7 L950.6,544.1 L951.1,542.6 L951.6,541.0 L952.1,539.5 L952.6,537.9 L953.1,536.4 L953.6,534.8 L954.1,533.2 L954.6,531.7 L955.1,530.1 L955.6,528.6 L956.1,527.0 L956.5,525.5 L957.0,523.9 L957.5,522.3 L958.0,520.8 L958.5,519.2 L959.0,517.7 L959.4,516.1 L959.9,514.5 L960.4,513.0 L960.9,511.4 L961.3,509.9 L961.8,508.3 L962.3,506.7 L962.7,505.2 L963.2,503.6 L963.7,502.0 L964.1,500.5 L964.6,498.9 L965.1,497.3 L965.5,495.8 L966.0,494.2 L966.4,492.6 L966.9,491.1 L967.3,489.5 L967.8,487.9 L968.2,486.3 L968.7,484.8 L969.1,483.2 L969.6,481.6 L970.0,480.1 L970.5,478.5 L970.9,476.9 L971.3,475.3 L971.8,473.8 L972.2,472.2 L972.6,470.6 L973.1,469.0 L973.5,467.5 L973.9,465.9 L974.4,464.3 L974.8,462.7 L975.2,461.1 L975.7,459.6 L976.1,458.0 L976.5,456.4 L976.9,454.8 L977.3,453.2 L977.8,451.7 L978.2,450.1 L978.6,448.5 L979.0,446.9 L979.4,445.3 L979.8,443.8 L980.3,442.2 L980.7,440.6 L981.1,439.0 L981.5,437.4 L981.9,435.8 L982.3,434.3 L982.7,432.7 L983.1,431.1 L983.5,429.5 L983.9,427.9 L984.4,426.3 L984.8,424.8 L985.2,423.2 L985.6,421.6 L986.0,420.0 L986.4,418.4 L986.8,416.9 L987.2,415.3 L987.7,413.7 L988.1,412.1 L988.5,410.5 L988.9,409.0 L989.3,407.4 L989.7,405.8 L990.2,404.2 L990.6,402.7 L991.0,401.1 L991.5,399.5 L991.9,397.9 L992.3,396.4 L992.8,394.8 L993.2,393.2 L993.6,391.7 L994.1,390.1 L994.5,388.5 L995.0,387.0 L995.4,385.4 L995.9,383.8 L996.4,382.3 L996.8,380.7 L997.3,379.2 L997.8,377.6 L998.2,376.1 L998.7,374.5 L999.2,373.0 L999.7,371.4 L1000.2,369.9 L1000.7,368.3 L1001.2,366.8 L1001.7,365.2 L1002.2,363.7 L1002.7,362.2 L1003.2,360.6 L1003.7,359.1 L1004.2,357.6 L1004.8,356.0 L1005.3,354.5 L1005.9,353.0 L1006.4,351.5 L1007.0,350.0 L1007.5,348.4 L1008.1,346.9 L1008.7,345.4 L1009.2,343.9 L1009.8,342.4 L1010.4,340.9 L1011.0,339.4 L1011.7,337.9 L1012.3,336.4 L1013.0,334.8 L1013.6,333.3 L1014.3,331.8 L1015.0,330.3 L1015.7,328.8 L1016.4,327.3 L1017.2,325.8 L1018.0,324.3 L1018.8,322.7 L1019.6,321.2 L1020.4,319.7 L1021.3,318.2 L1022.3,316.9 L1023.3,315.6 L1024.3,314.4 L1025.5,313.4 L1026.8,312.5 L1028.2,311.9 L1029.7,311.5 L1031.2,311.3 L1032.7,311.3 L1034.3,311.6 L1035.7,312.1 L1037.0,313.0 L1038.2,314.0 L1039.3,315.2 L1040.4,316.4 L1041.4,317.7 L1042.3,319.1 L1043.2,320.4 L1044.0,321.8 L1044.8,323.3 L1045.6,324.7 L1046.3,326.1 L1047.0,327.6 L1047.6,329.1 L1048.3,330.6 L1048.9,332.2 L1049.5,333.7 L1050.0,335.2 L1050.6,336.8 L1051.1,338.3 L1051.6,339.9 L1052.1,341.5 L1052.6,343.0 L1053.1,344.6 L1053.6,346.2 L1054.1,347.7 L1054.6,349.3 L1055.1,350.9 L1055.5,352.5 L1056.0,354.0 L1056.4,355.6 L1056.9,357.2 L1057.3,358.8 L1057.8,360.3 L1058.2,361.9 L1058.6,363.5 L1059.0,365.1 L1059.4,366.7 L1059.8,368.2 L1060.2,369.8 L1060.6,371.4 L1061.0,373.0 L1061.4,374.6 L1061.8,376.2 L1062.1,377.8 L1062.5,379.4 L1062.9,381.0 L1063.2,382.5 L1063.6,384.1 L1063.9,385.7 L1064.3,387.3 L1064.6,388.9 L1065.0,390.5 L1065.3,392.1 L1065.6,393.7 L1066.0,395.3 L1066.3,396.9 L1066.6,398.5 L1066.9,400.1 L1067.2,401.7 L1067.5,403.3 L1067.8,404.9 L1068.1,406.5 L1068.4,408.1 L1068.7,409.7 L1069.0,411.3 L1069.3,412.9 L1069.6,414.5 L1069.9,416.2 L1070.2,417.8 L1070.5,419.4 L1070.7,421.0 L1071.0,422.6 L1071.3,424.2 L1071.6,425.8 L1071.8,427.4 L1072.1,429.0 L1072.4,430.6 L1072.6,432.2 L1072.9,433.8 L1073.2,435.5 L1073.4,437.1 L1073.7,438.7 L1074.0,440.3 L1074.2,441.9 L1074.5,443.5 L1074.7,445.1 L1075.0,446.7 L1075.3,448.3 L1075.5,450.0 L1075.8,451.6 L1076.0,453.2 L1076.3,454.8 L1076.5,456.4 L1076.8,458.0 L1077.0,459.6 L1077.3,461.2 L1077.5,462.8 L1077.8,464.5 L1078.0,466.1 L1078.3,467.7 L1078.5,469.3 L1078.8,470.9 L1079.0,472.5 L1079.3,474.1 L1079.5,475.8 L1079.8,477.4 L1080.0,479.0 L1080.2,480.6 L1080.5,482.2 L1080.7,483.8 L1081.0,485.4 L1081.2,487.0 L1081.5,488.7 L1081.7,490.3 L1081.9,491.9 L1082.2,493.5 L1082.4,495.1 L1082.6,496.7 L1082.9,498.4 L1083.1,500.0 L1083.3,501.6 L1083.6,503.2 L1083.8,504.8 L1084.0,506.4 L1084.3,508.0 L1084.5,509.7 L1084.7,511.3 L1085.0,512.9 L1085.2,514.5 L1085.4,516.1 L1085.7,517.7 L1085.9,519.4 L1086.1,521.0 L1086.3,522.6 L1086.6,524.2 L1086.8,525.8 L1087.0,527.4 L1087.2,529.1 L1087.5,530.7 L1087.7,532.3 L1087.9,533.9 L1088.1,535.5 L1088.4,537.1 L1088.6,538.8 L1088.8,540.4 L1089.0,542.0 L1089.2,543.6 L1089.5,545.2 L1089.7,546.8 L1089.9,548.5 L1090.1,550.1 L1090.3,551.7 L1090.6,553.3 L1090.8,554.9 L1091.0,556.5 L1091.2,558.2 L1091.4,559.8 L1091.6,561.4 L1091.9,563.0 L1092.1,564.6 L1092.3,566.3 L1092.5,567.9 L1092.7,569.5 L1092.9,571.1 L1093.1,572.7 L1093.4,574.4 L1093.6,576.0 L1093.8,577.6 L1094.0,579.2 L1094.2,580.8 L1094.4,582.4 L1094.6,584.1 L1094.8,585.7 L1095.0,587.3 L1095.3,588.9 L1095.5,590.5 L1095.7,592.2 L1095.9,593.8 L1096.1,595.4 L1096.3,597.0 L1096.5,598.6 L1096.7,600.3 L1096.9,601.9 L1097.1,603.5 L1097.3,605.1 L1097.5,606.7 L1097.8,608.4 L1098.0,610.0 L1098.2,611.6 L1098.4,613.2 L1098.6,614.8 L1098.8,616.5 L1099.0,618.1 L1099.2,619.7 L1099.4,621.3 L1099.6,622.9 L1099.8,624.6 L1100.0,626.2 L1100.2,627.8 L1100.4,629.4 L1100.6,631.0 L1100.8,632.7 L1101.0,634.3 L1101.2,635.9 L1101.4,637.5 L1101.7,639.1 L1101.9,640.8 L1102.1,642.4 L1102.3,644.0 L1102.5,645.6 L1102.7,647.2 L1102.9,648.9 L1103.1,650.5 L1103.3,652.1 L1103.5,653.7 L1103.7,655.3 L1103.9,657.0 L1104.1,658.6 L1104.3,660.2 L1104.5,661.8 L1104.7,663.4 L1104.9,665.1 L1105.1,666.7 L1105.3,668.3 L1105.5,669.9 L1105.7,671.5 L1105.9,673.2 L1106.1,674.8 L1106.3,676.4 L1106.5,678.0 L1106.7,679.7 L1106.9,681.3 L1107.1,682.9 L1107.3,684.5 L1107.5,686.1 L1107.7,687.8 L1107.9,689.4 L1108.1,691.0 L1108.3,692.6 L1108.5,694.2 L1108.8,695.9 L1109.0,697.5 L1109.2,699.1 L1109.4,700.7 L1109.6,702.3 L1109.8,704.0 L1110.0,705.6 L1110.2,707.2 L1110.4,708.8 L1110.6,710.4 L1110.8,712.1 L1111.0,713.7 L1111.2,715.3 L1111.4,716.9 L1111.6,718.5 L1111.8,720.2 L1112.0,721.8 L1112.2,723.4 L1112.4,725.0 L1112.6,726.6 L1112.8,728.3 L1113.0,729.9 L1113.3,731.5 L1113.5,733.1 L1113.7,734.7 L1113.9,736.4 L1114.1,738.0 L1114.3,739.6 L1114.5,741.2 L1114.7,742.8 L1114.9,744.5 L1115.1,746.1 L1115.3,747.7 L1115.5,749.3 L1115.7,750.9 L1116.0,752.6 L1116.2,754.2 L1116.4,755.8 L1116.6,757.4 L1116.8,759.0 L1117.0,760.6 L1117.2,762.3 L1117.4,763.9 L1117.6,765.5 L1117.9,767.1 L1118.1,768.7 L1118.3,770.4 L1118.5,772.0 L1118.7,773.6 L1118.9,775.2 L1119.1,776.8 L1119.4,778.5 L1119.6,780.1 L1119.8,781.7 L1120.0,783.3 L1120.2,784.9 L1120.4,786.5 L1120.7,788.2 L1120.9,789.8 L1121.1,791.4 L1121.3,793.0 L1121.5,794.6 L1121.7,796.2 L1122.0,797.9 L1122.2,799.5 L1122.4,801.1 L1122.6,802.7 L1122.9,804.3 L1123.1,805.9 L1123.3,807.6 L1123.5,809.2 L1123.7,810.8 L1124.0,812.4 L1124.2,814.0 L1124.4,815.7 L1124.6,817.3 L1124.9,818.9 L1125.1,820.5 L1125.3,822.1 L1125.5,823.7 L1125.8,825.3 L1126.0,827.0 L1126.2,828.6 L1126.5,830.2 L1126.7,831.8 L1126.9,833.4 L1127.2,835.0 L1127.4,836.7 L1127.6,838.3 L1127.8,839.9 L1128.1,841.5 L1128.3,843.1 L1128.5,844.7 L1128.8,846.4 L1129.0,848.0 L1129.2,849.6 L1129.5,851.2 L1129.7,852.8 L1129.9,854.4 L1130.2,856.0 L1130.4,857.7 L1130.7,859.3 L1130.9,860.9 L1131.1,862.5 L1131.4,864.1 L1131.6,865.7 L1131.9,867.3 L1132.1,869.0 L1132.3,870.6 L1132.6,872.2 L1132.8,873.8 L1133.1,875.4 L1133.3,877.0 L1133.5,878.6 L1133.8,880.3 L1134.0,881.9 L1134.3,883.5 L1134.5,885.1 L1134.8,886.7 L1135.0,888.3 L1135.3,889.9 L1135.5,891.6 L1135.8,893.2 L1136.0,894.8 L1136.2,896.4 L1136.5,898.0 L1136.7,899.6 L1137.0,901.2 L1137.2,902.8 L1137.5,904.5 L1137.7,906.1 L1138.0,907.7 L1138.2,909.3 L1138.5,910.9 L1138.8,912.5 L1139.0,914.1 L1139.3,915.7 L1139.5,917.4 L1139.8,919.0 L1140.0,920.6 L1140.3,922.2 L1140.5,923.8 L1140.8,925.4 L1141.1,927.0 L1141.3,928.6 L1141.6,930.3 L1141.8,931.9 L1142.1,933.5 L1142.3,935.1 L1142.6,936.7 L1142.9,938.3 L1143.1,939.9 L1143.4,941.5 L1143.7,943.1 L1143.9,944.8 L1144.2,946.4 L1144.4,948.0 L1144.7,949.6 L1145.0,951.2 L1145.2,952.8 L1145.5,954.4 L1145.8,956.0 L1146.0,957.6 L1146.3,959.3 L1146.6,960.9 L1146.8,962.5 L1147.1,964.1 L1147.4,965.7 L1147.7,967.3 L1147.9,968.9 L1148.2,970.5 L1148.5,972.1 L1148.7,973.8 L1149.0,975.4 L1149.3,977.0 L1149.6,978.6 L1149.8,980.2 L1150.1,981.8 L1150.4,983.4 L1150.7,985.0 L1150.9,986.6 L1151.2,988.2 L1151.5,989.8 L1151.8,991.5 L1152.1,993.1 L1152.4,994.7 L1152.7,996.3 L1153.0,997.9 L1153.2,999.5 L1153.5,1001.1 L1153.8,1002.7 L1154.2,1004.3 L1154.5,1005.9 L1154.8,1007.5 L1155.1,1009.1 L1155.4,1010.7 L1155.7,1012.3 L1156.0,1013.9 L1156.4,1015.5 L1156.7,1017.1 L1157.0,1018.7 L1157.4,1020.3 L1157.7,1021.9 L1158.0,1023.5 L1158.4,1025.1 L1158.8,1026.7 L1159.1,1028.3 L1159.5,1029.8 L1159.8,1031.4 L1160.2,1033.0 L1160.6,1034.6 L1161.0,1036.2 L1161.4,1037.8 L1161.8,1039.4 L1162.1,1040.9 L1162.6,1042.5 L1163.0,1044.1 L1163.4,1045.7 L1163.8,1047.3 L1164.2,1048.8 L1164.7,1050.4 L1165.1,1052.0 L1165.5,1053.5 L1166.0,1055.1 L1166.5,1056.7 L1166.9,1058.2 L1167.4,1059.8 L1167.9,1061.4 L1168.4,1062.9 L1168.8,1064.5 L1169.3,1066.0 L1169.9,1067.6 L1170.4,1069.1 L1170.9,1070.7 L1171.4,1072.2 L1172.0,1073.8 L1172.5,1075.3 L1173.1,1076.9 L1173.6,1078.4 L1174.2,1079.9 L1174.8,1081.5 L1175.4,1083.0 L1176.0,1084.5 L1176.6,1086.1 L1177.2,1087.6 L1177.8,1089.1 L1178.4,1090.6 L1179.1,1092.2 L1179.7,1093.7 L1180.4,1095.2 L1181.0,1096.7 L1181.7,1098.2 L1182.4,1099.7 L1183.1,1101.2 L1183.8,1102.7 L1184.5,1104.2 L1185.3,1105.7 L1186.0,1107.1 L1186.8,1108.6 L1187.6,1110.0 L1188.5,1111.4 L1189.3,1112.8 L1190.2,1114.1 L1191.1,1115.4 L1192.1,1116.6 L1193.1,1117.8 L1194.1,1119.0 L1195.2,1120.1 L1196.3,1121.2 L1197.4,1122.2 L1198.6,1123.1 L1199.9,1124.0 L1201.2,1124.8 L1202.5,1125.5 L1203.9,1126.2 L1205.4,1126.8 L1206.9,1127.3 L1208.5,1127.8 L1210.0,1128.2 L1211.7,1128.6 L1213.3,1128.9 L1215.0,1129.2 L1216.7,1129.5 L1218.4,1129.8 L1220.1,1130.0 L1221.9,1130.2 L1223.6,1130.5 L1225.3,1130.7 L1227.1,1130.9 L1228.8,1131.2 L1230.5,1131.4 L1232.2,1131.7 L1233.9,1132.1 L1235.5,1132.4 L1237.1,1132.8 L1238.7,1133.2 L1240.3,1133.7 L1241.9,1134.2 L1243.4,1134.7 L1244.9,1135.3 L1246.4,1135.8 L1247.8,1136.4 L1249.3,1137.0 L1250.8,1137.7 L1252.2,1138.3 L1253.6,1139.0 L1255.1,1139.7 L1256.5,1140.4 L1257.9,1141.0 L1259.3,1141.7 L1260.7,1142.4 L1262.2,1143.1 L1263.6,1143.8 L1265.1,1144.5 L1266.5,1145.2 L1268.0,1145.8 L1269.4,1146.5 L1270.9,1147.1 L1272.5,1147.8 L1274.0,1148.4 L1275.5,1148.9 L1277.1,1149.5 L1278.7,1150.0 L1280.3,1150.5 L1282.0,1151.0 L1282.0,1151.0 L1496.0,1151.0" stroke="#FE3C3C"/>
<path d="M125.0,1151.0 L494.0,1151.0 L494.0,1151.0 L495.5,1149.8 L497.0,1148.6 L498.5,1147.5 L500.0,1146.3 L501.5,1145.2 L503.0,1144.1 L504.6,1143.0 L506.1,1141.9 L507.7,1140.8 L509.2,1139.7 L510.8,1138.6 L512.3,1137.5 L513.9,1136.5 L515.5,1135.4 L517.1,1134.4 L518.7,1133.4 L520.2,1132.3 L521.8,1131.3 L523.4,1130.3 L525.0,1129.3 L526.6,1128.2 L528.2,1127.2 L529.8,1126.2 L531.4,1125.2 L533.1,1124.2 L534.7,1123.2 L536.3,1122.2 L537.9,1121.2 L539.5,1120.1 L541.1,1119.1 L542.7,1118.1 L544.3,1117.1 L545.9,1116.1 L547.5,1115.0 L549.1,1114.0 L550.7,1112.9 L552.2,1111.9 L553.8,1110.8 L555.4,1109.8 L557.0,1108.7 L558.5,1107.6 L560.1,1106.5 L561.6,1105.4 L563.2,1104.3 L564.7,1103.2 L566.3,1102.1 L567.8,1101.0 L569.4,1099.9 L570.9,1098.8 L572.4,1097.6 L574.0,1096.5 L575.5,1095.4 L577.0,1094.2 L578.5,1093.1 L580.0,1091.9 L581.6,1090.7 L583.1,1089.6 L584.6,1088.4 L586.1,1087.2 L587.6,1086.0 L589.0,1084.9 L590.5,1083.7 L592.0,1082.5 L593.5,1081.3 L595.0,1080.1 L596.5,1078.9 L597.9,1077.7 L599.4,1076.4 L600.9,1075.2 L602.3,1074.0 L603.8,1072.8 L605.2,1071.5 L606.7,1070.3 L608.1,1069.1 L609.6,1067.8 L611.0,1066.6 L612.5,1065.4 L613.9,1064.1 L615.3,1062.9 L616.8,1061.6 L618.2,1060.3 L619.6,1059.1 L621.0,1057.8 L622.5,1056.6 L623.9,1055.3 L625.3,1054.0 L626.7,1052.7 L628.1,1051.5 L629.5,1050.2 L630.9,1048.9 L632.3,1047.6 L633.7,1046.3 L635.1,1045.0 L636.5,1043.7 L637.8,1042.4 L639.2,1041.1 L640.6,1039.8 L641.9,1038.5 L643.3,1037.2 L644.6,1035.9 L646.0,1034.5 L647.3,1033.2 L648.7,1031.8 L650.0,1030.5 L651.3,1029.1 L652.6,1027.8 L653.9,1026.4 L655.2,1025.0 L656.5,1023.6 L657.8,1022.3 L659.1,1020.9 L660.4,1019.5 L661.6,1018.0 L662.9,1016.6 L664.1,1015.2 L665.4,1013.8 L666.6,1012.3 L667.8,1010.9 L669.1,1009.4 L670.3,1008.0 L671.5,1006.5 L672.7,1005.0 L673.9,1003.5 L675.0,1002.0 L676.2,1000.5 L677.4,999.0 L678.5,997.5 L679.7,996.0 L680.8,994.5 L681.9,992.9 L683.1,991.4 L684.2,989.8 L685.3,988.3 L686.4,986.7 L687.5,985.2 L688.6,983.6 L689.6,982.0 L690.7,980.4 L691.8,978.8 L692.8,977.2 L693.9,975.7 L694.9,974.0 L695.9,972.4 L696.9,970.8 L698.0,969.2 L699.0,967.6 L700.0,966.0 L701.0,964.3 L702.0,962.7 L702.9,961.1 L703.9,959.4 L704.9,957.8 L705.8,956.1 L706.8,954.4 L707.7,952.8 L708.6,951.1 L709.6,949.5 L710.5,947.8 L711.4,946.1 L712.3,944.4 L713.2,942.7 L714.1,941.1 L715.0,939.4 L715.8,937.7 L716.7,936.0 L717.6,934.3 L718.4,932.6 L719.3,930.9 L720.1,929.2 L720.9,927.5 L721.8,925.8 L722.6,924.0 L723.4,922.3 L724.2,920.6 L725.0,918.9 L725.8,917.2 L726.6,915.4 L727.4,913.7 L728.2,912.0 L729.0,910.2 L729.7,908.5 L730.5,906.8 L731.3,905.0 L732.0,903.3 L732.8,901.5 L733.5,899.8 L734.3,898.1 L735.0,896.3 L735.7,894.6 L736.5,892.8 L737.2,891.0 L737.9,889.3 L738.7,887.5 L739.4,885.8 L740.1,884.0 L740.8,882.3 L741.5,880.5 L742.2,878.7 L742.9,877.0 L743.6,875.2 L744.3,873.4 L745.0,871.7 L745.7,869.9 L746.4,868.1 L747.1,866.3 L747.8,864.6 L748.5,862.8 L749.1,861.0 L749.8,859.3 L750.5,857.5 L751.2,855.7 L751.8,853.9 L752.5,852.1 L753.2,850.4 L753.9,848.6 L754.5,846.8 L755.2,845.0 L755.9,843.2 L756.6,841.5 L757.2,839.7 L757.9,837.9 L758.5,836.1 L759.2,834.3 L759.9,832.6 L760.5,830.8 L761.2,829.0 L761.8,827.2 L762.5,825.4 L763.2,823.6 L763.8,821.8 L764.5,820.1 L765.1,818.3 L765.8,816.5 L766.4,814.7 L767.1,812.9 L767.7,811.1 L768.3,809.3 L769.0,807.5 L769.6,805.7 L770.3,803.9 L770.9,802.1 L771.5,800.4 L772.2,798.6 L772.8,796.8 L773.4,795.0 L774.1,793.2 L774.7,791.4 L775.3,789.6 L776.0,787.8 L776.6,786.0 L777.2,784.2 L777.8,782.4 L778.4,780.6 L779.1,778.8 L779.7,777.0 L780.3,775.2 L780.9,773.4 L781.5,771.6 L782.1,769.8 L782.7,768.0 L783.4,766.2 L784.0,764.4 L784.6,762.6 L785.2,760.7 L785.8,758.9 L786.4,757.1 L787.0,755.3 L787.6,753.5 L788.1,751.7 L788.7,749.9 L789.3,748.1 L789.9,746.3 L790.5,744.5 L791.1,742.7 L791.7,740.8 L792.3,739.0 L792.8,737.2 L793.4,735.4 L794.0,733.6 L794.6,731.8 L795.1,730.0 L795.7,728.1 L796.3,726.3 L796.8,724.5 L797.4,722.7 L798.0,720.9 L798.5,719.0 L799.1,717.2 L799.7,715.4 L800.2,713.6 L800.8,711.8 L801.3,709.9 L801.9,708.1 L802.4,706.3 L803.0,704.5 L803.5,702.7 L804.0,700.8 L804.6,699.0 L805.1,697.2 L805.7,695.4 L806.2,693.5 L806.7,691.7 L807.3,689.9 L807.8,688.0 L808.3,686.2 L808.8,684.4 L809.4,682.6 L809.9,680.7 L810.4,678.9 L810.9,677.1 L811.4,675.2 L811.9,673.4 L812.5,671.6 L813.0,669.7 L813.5,667.9 L814.0,666.1 L814.5,664.2 L815.0,662.4 L815.5,660.5 L816.0,658.7 L816.5,656.9 L817.0,655.0 L817.4,653.2 L817.9,651.4 L818.4,649.5 L818.9,647.7 L819.4,645.8 L819.9,644.0 L820.3,642.1 L820.8,640.3 L821.3,638.5 L821.7,636.6 L822.2,634.8 L822.7,632.9 L823.1,631.1 L823.6,629.2 L824.1,627.4 L824.5,625.5 L825.0,623.7 L825.4,621.8 L825.9,620.0 L826.3,618.1 L826.8,616.3 L827.2,614.5 L827.7,612.6 L828.1,610.7 L828.5,608.9 L829.0,607.0 L829.4,605.2 L829.9,603.3 L830.3,601.5 L830.7,599.6 L831.1,597.8 L831.6,595.9 L832.0,594.1 L832.4,592.2 L832.9,590.4 L833.3,588.5 L833.7,586.6 L834.1,584.8 L834.5,582.9 L834.9,581.1 L835.4,579.2 L835.8,577.4 L836.2,575.5 L836.6,573.6 L837.0,571.8 L837.4,569.9 L837.8,568.1 L838.2,566.2 L838.6,564.3 L839.0,562.5 L839.4,560.6 L839.8,558.8 L840.2,556.9 L840.6,555.0 L841.0,553.2 L841.4,551.3 L841.8,549.4 L842.2,547.6 L842.5,545.7 L842.9,543.9 L843.3,542.0 L843.7,540.1 L844.1,538.3 L844.5,536.4 L844.8,534.5 L845.2,532.7 L845.6,530.8 L846.0,528.9 L846.4,527.1 L846.7,525.2 L847.1,523.3 L847.5,521.5 L847.9,519.6 L848.2,517.7 L848.6,515.9 L849.0,514.0 L849.3,512.1 L849.7,510.3 L850.1,508.4 L850.4,506.5 L850.8,504.6 L851.2,502.8 L851.5,500.9 L851.9,499.0 L852.3,497.2 L852.6,495.3 L853.0,493.4 L853.3,491.6 L853.7,489.7 L854.0,487.8 L854.4,485.9 L854.8,484.1 L855.1,482.2 L855.5,480.3 L855.8,478.5 L856.2,476.6 L856.5,474.7 L856.9,472.8 L857.2,471.0 L857.6,469.1 L857.9,467.2 L858.3,465.4 L858.6,463.5 L859.0,461.6 L859.3,459.7 L859.7,457.9 L860.0,456.0 L860.4,454.1 L860.7,452.3 L861.1,450.4 L861.4,448.5 L861.8,446.6 L862.1,444.8 L862.5,442.9 L862.8,441.0 L863.2,439.1 L863.5,437.3 L863.8,435.4 L864.2,433.5 L864.5,431.7 L864.9,429.8 L865.2,427.9 L865.6,426.0 L865.9,424.2 L866.3,422.3 L866.6,420.4 L866.9,418.5 L867.3,416.7 L867.6,414.8 L868.0,412.9 L868.3,411.1 L868.7,409.2 L869.0,407.3 L869.3,405.4 L869.7,403.6 L870.0,401.7 L870.4,399.8 L870.7,397.9 L871.1,396.1 L871.4,394.2 L871.7,392.3 L872.1,390.5 L872.4,388.6 L872.8,386.7 L873.1,384.8 L873.5,383.0 L873.8,381.1 L874.2,379.2 L874.5,377.4 L874.8,375.5 L875.2,373.6 L875.5,371.7 L875.9,369.9 L876.2,368.0 L876.6,366.1 L876.9,364.3 L877.3,362.4 L877.6,360.5 L878.0,358.7 L878.3,356.8 L878.7,354.9 L879.0,353.1 L879.4,351.2 L879.7,349.3 L880.1,347.4 L880.4,345.6 L880.8,343.7 L881.1,341.8 L881.5,340.0 L881.9,338.1 L882.2,336.2 L882.6,334.4 L882.9,332.5 L883.3,330.6 L883.6,328.8 L884.0,326.9 L884.4,325.0 L884.7,323.2 L885.1,321.3 L885.4,319.5 L885.8,317.6 L886.2,315.7 L886.5,313.9 L886.9,312.0 L887.3,310.1 L887.6,308.3 L888.0,306.4 L888.4,304.6 L888.8,302.7 L889.1,300.8 L889.5,299.0 L889.9,297.1 L890.2,295.2 L890.6,293.4 L891.0,291.5 L891.4,289.7 L891.8,287.8 L892.1,286.0 L892.5,284.1 L892.9,282.2 L893.3,280.4 L893.7,278.5 L894.1,276.7 L894.5,274.8 L894.8,273.0 L895.2,271.1 L895.6,269.2 L896.0,267.4 L896.4,265.5 L896.8,263.7 L897.2,261.8 L897.6,260.0 L898.0,258.1 L898.4,256.3 L898.8,254.4 L899.2,252.6 L899.6,250.7 L900.0,248.9 L900.4,247.0 L900.8,245.2 L901.3,243.3 L901.7,241.5 L902.1,239.6 L902.5,237.8 L902.9,235.9 L903.4,234.1 L903.8,232.2 L904.3,230.4 L904.7,228.5 L905.2,226.7 L905.6,224.8 L906.1,223.0 L906.6,221.1 L907.1,219.3 L907.6,217.4 L908.1,215.6 L908.6,213.7 L909.1,211.9 L909.7,210.0 L910.2,208.2 L910.8,206.3 L911.3,204.4 L911.9,202.6 L912.5,200.7 L913.1,198.9 L913.7,197.0 L914.4,195.1 L915.0,193.3 L915.7,191.4 L916.4,189.5 L917.1,187.7 L917.9,185.9 L918.7,184.2 L919.5,182.5 L920.5,180.9 L921.5,179.4 L922.6,178.1 L923.9,176.9 L925.2,175.8 L926.7,174.9 L928.2,174.3 L929.8,174.0 L931.5,174.0 L933.0,174.4 L934.5,175.3 L935.8,176.6 L937.1,178.2 L938.2,179.9 L939.2,181.7 L940.1,183.4 L940.9,185.2 L941.7,187.0 L942.3,188.8 L942.9,190.6 L943.5,192.4 L944.0,194.2 L944.5,196.1 L944.9,197.9 L945.3,199.8 L945.8,201.7 L946.2,203.5 L946.6,205.4 L947.0,207.2 L947.5,209.1 L947.9,211.0 L948.3,212.8 L948.7,214.7 L949.1,216.5 L949.5,218.4 L949.9,220.3 L950.3,222.1 L950.7,224.0 L951.1,225.9 L951.5,227.7 L951.8,229.6 L952.2,231.4 L952.6,233.3 L953.0,235.2 L953.3,237.0 L953.7,238.9 L954.1,240.8 L954.4,242.6 L954.8,244.5 L955.2,246.4 L955.5,248.3 L955.9,250.1 L956.2,252.0 L956.6,253.9 L956.9,255.7 L957.2,257.6 L957.6,259.5 L957.9,261.4 L958.3,263.2 L958.6,265.1 L958.9,267.0 L959.2,268.8 L959.6,270.7 L959.9,272.6 L960.2,274.5 L960.5,276.3 L960.8,278.2 L961.1,280.1 L961.5,282.0 L961.8,283.8 L962.1,285.7 L962.4,287.6 L962.7,289.5 L963.0,291.4 L963.3,293.2 L963.5,295.1 L963.8,297.0 L964.1,298.9 L964.4,300.8 L964.7,302.6 L965.0,304.5 L965.3,306.4 L965.5,308.3 L965.8,310.2 L966.1,312.0 L966.4,313.9 L966.6,315.8 L966.9,317.7 L967.2,319.6 L967.4,321.5 L967.7,323.3 L968.0,325.2 L968.2,327.1 L968.5,329.0 L968.7,330.9 L969.0,332.8 L969.2,334.7 L969.5,336.5 L969.7,338.4 L970.0,340.3 L970.2,342.2 L970.5,344.1 L970.7,346.0 L970.9,347.9 L971.2,349.7 L971.4,351.6 L971.6,353.5 L971.9,355.4 L972.1,357.3 L972.3,359.2 L972.6,361.1 L972.8,363.0 L973.0,364.9 L973.2,366.7 L973.5,368.6 L973.7,370.5 L973.9,372.4 L974.1,374.3 L974.3,376.2 L974.6,378.1 L974.8,380.0 L975.0,381.9 L975.2,383.8 L975.4,385.7 L975.6,387.5 L975.8,389.4 L976.0,391.3 L976.2,393.2 L976.5,395.1 L976.7,397.0 L976.9,398.9 L977.1,400.8 L977.3,402.7 L977.5,404.6 L977.7,406.5 L977.9,408.4 L978.1,410.3 L978.3,412.2 L978.4,414.0 L978.6,415.9 L978.8,417.8 L979.0,419.7 L979.2,421.6 L979.4,423.5 L979.6,425.4 L979.8,427.3 L980.0,429.2 L980.2,431.1 L980.4,433.0 L980.5,434.9 L980.7,436.8 L980.9,438.7 L981.1,440.6 L981.3,442.5 L981.5,444.4 L981.6,446.3 L981.8,448.2 L982.0,450.1 L982.2,451.9 L982.4,453.8 L982.6,455.7 L982.7,457.6 L982.9,459.5 L983.1,461.4 L983.3,463.3 L983.4,465.2 L983.6,467.1 L983.8,469.0 L984.0,470.9 L984.2,472.8 L984.3,474.7 L984.5,476.6 L984.7,478.5 L984.9,480.4 L985.0,482.3 L985.2,484.2 L985.4,486.1 L985.6,488.0 L985.7,489.9 L985.9,491.8 L986.1,493.7 L986.3,495.6 L986.4,497.5 L986.6,499.3 L986.8,501.2 L987.0,503.1 L987.1,505.0 L987.3,506.9 L987.5,508.8 L987.7,510.7 L987.9,512.6 L988.0,514.5 L988.2,516.4 L988.4,518.3 L988.6,520.2 L988.7,522.1 L988.9,524.0 L989.1,525.9 L989.3,527.8 L989.4,529.7 L989.6,531.6 L989.8,533.5 L990.0,535.4 L990.2,537.3 L990.3,539.2 L990.5,541.0 L990.7,542.9 L990.9,544.8 L991.1,546.7 L991.3,548.6 L991.4,550.5 L991.6,552.4 L991.8,554.3 L992.0,556.2 L992.2,558.1 L992.4,560.0 L992.5,561.9 L992.7,563.8 L992.9,565.7 L993.1,567.6 L993.3,569.5 L993.5,571.4 L993.6,573.2 L993.8,575.1 L994.0,577.0 L994.2,578.9 L994.4,580.8 L994.6,582.7 L994.8,584.6 L995.0,586.5 L995.1,588.4 L995.3,590.3 L995.5,592.2 L995.7,594.1 L995.9,596.0 L996.1,597.9 L996.3,599.7 L996.5,601.6 L996.7,603.5 L996.9,605.4 L997.1,607.3 L997.2,609.2 L997.4,611.1 L997.6,613.0 L997.8,614.9 L998.0,616.8 L998.2,618.7 L998.4,620.6 L998.6,622.5 L998.8,624.3 L999.0,626.2 L999.2,628.1 L999.4,630.0 L999.6,631.9 L999.8,633.8 L1000.0,635.7 L1000.2,637.6 L1000.3,639.5 L1000.5,641.4 L1000.7,643.3 L1000.9,645.2 L1001.1,647.0 L1001.3,648.9 L1001.5,650.8 L1001.7,652.7 L1001.9,654.6 L1002.1,656.5 L1002.3,658.4 L1002.5,660.3 L1002.7,662.2 L1002.9,664.1 L1003.1,666.0 L1003.3,667.9 L1003.5,669.7 L1003.7,671.6 L1003.9,673.5 L1004.1,675.4 L1004.3,677.3 L1004.5,679.2 L1004.7,681.1 L1004.9,683.0 L1005.1,684.9 L1005.3,686.8 L1005.5,688.7 L1005.7,690.6 L1005.9,692.4 L1006.1,694.3 L1006.3,696.2 L1006.5,698.1 L1006.7,700.0 L1006.9,701.9 L1007.2,703.8 L1007.4,705.7 L1007.6,707.6 L1007.8,709.5 L1008.0,711.4 L1008.2,713.2 L1008.4,715.1 L1008.6,717.0 L1008.8,718.9 L1009.0,720.8 L1009.2,722.7 L1009.4,724.6 L1009.6,726.5 L1009.8,728.4 L1010.0,730.3 L1010.2,732.2 L1010.4,734.1 L1010.6,735.9 L1010.8,737.8 L1011.0,739.7 L1011.3,741.6 L1011.5,743.5 L1011.7,745.4 L1011.9,747.3 L1012.1,749.2 L1012.3,751.1 L1012.5,753.0 L1012.7,754.9 L1012.9,756.8 L1013.1,758.7 L1013.3,760.5 L1013.5,762.4 L1013.7,764.3 L1014.0,766.2 L1014.2,768.1 L1014.4,770.0 L1014.6,771.9 L1014.8,773.8 L1015.0,775.7 L1015.2,777.6 L1015.4,779.5 L1015.6,781.4 L1015.8,783.3 L1016.0,785.1 L1016.3,787.0 L1016.5,788.9 L1016.7,790.8 L1016.9,792.7 L1017.1,794.6 L1017.3,796.5 L1017.5,798.4 L1017.7,800.3 L1017.9,802.2 L1018.2,804.1 L1018.4,806.0 L1018.6,807.9 L1018.8,809.8 L1019.0,811.6 L1019.2,813.5 L1019.4,815.4 L1019.6,817.3 L1019.9,819.2 L1020.1,821.1 L1020.3,823.0 L1020.5,824.9 L1020.7,826.8 L1020.9,828.7 L1021.1,830.6 L1021.4,832.5 L1021.6,834.4 L1021.8,836.3 L1022.0,838.1 L1022.2,840.0 L1022.5,841.9 L1022.7,843.8 L1022.9,845.7 L1023.1,847.6 L1023.3,849.5 L1023.6,851.4 L1023.8,853.3 L1024.0,855.2 L1024.2,857.1 L1024.5,859.0 L1024.7,860.8 L1024.9,862.7 L1025.2,864.6 L1025.4,866.5 L1025.6,868.4 L1025.8,870.3 L1026.1,872.2 L1026.3,874.1 L1026.5,876.0 L1026.8,877.9 L1027.0,879.8 L1027.3,881.6 L1027.5,883.5 L1027.7,885.4 L1028.0,887.3 L1028.2,889.2 L1028.5,891.1 L1028.7,893.0 L1028.9,894.9 L1029.2,896.7 L1029.4,898.6 L1029.7,900.5 L1029.9,902.4 L1030.2,904.3 L1030.4,906.2 L1030.7,908.1 L1030.9,910.0 L1031.2,911.8 L1031.5,913.7 L1031.7,915.6 L1032.0,917.5 L1032.2,919.4 L1032.5,921.3 L1032.8,923.1 L1033.0,925.0 L1033.3,926.9 L1033.6,928.8 L1033.8,930.7 L1034.1,932.6 L1034.4,934.4 L1034.7,936.3 L1034.9,938.2 L1035.2,940.1 L1035.5,942.0 L1035.8,943.8 L1036.1,945.7 L1036.4,947.6 L1036.6,949.5 L1036.9,951.4 L1037.2,953.2 L1037.5,955.1 L1037.8,957.0 L1038.1,958.9 L1038.4,960.7 L1038.7,962.6 L1039.0,964.5 L1039.3,966.4 L1039.6,968.2 L1039.9,970.1 L1040.2,972.0 L1040.5,973.9 L1040.8,975.7 L1041.2,977.6 L1041.5,979.5 L1041.8,981.4 L1042.1,983.2 L1042.4,985.1 L1042.8,987.0 L1043.1,988.8 L1043.4,990.7 L1043.8,992.6 L1044.1,994.4 L1044.4,996.3 L1044.8,998.2 L1045.1,1000.0 L1045.5,1001.9 L1045.8,1003.8 L1046.2,1005.6 L1046.5,1007.5 L1046.9,1009.4 L1047.3,1011.2 L1047.6,1013.1 L1048.0,1014.9 L1048.4,1016.8 L1048.8,1018.7 L1049.2,1020.5 L1049.6,1022.4 L1050.0,1024.2 L1050.4,1026.1 L1050.8,1027.9 L1051.3,1029.8 L1051.7,1031.6 L1052.1,1033.5 L1052.6,1035.3 L1053.0,1037.2 L1053.5,1039.0 L1054.0,1040.9 L1054.5,1042.7 L1055.0,1044.5 L1055.5,1046.4 L1056.0,1048.2 L1056.5,1050.0 L1057.0,1051.9 L1057.6,1053.7 L1058.1,1055.5 L1058.7,1057.4 L1059.3,1059.2 L1059.9,1061.0 L1060.5,1062.8 L1061.1,1064.7 L1061.7,1066.5 L1062.3,1068.3 L1063.0,1070.1 L1063.6,1071.9 L1064.3,1073.7 L1065.0,1075.5 L1065.7,1077.3 L1066.4,1079.1 L1067.1,1080.9 L1067.9,1082.7 L1068.7,1084.5 L1069.4,1086.3 L1070.3,1088.0 L1071.1,1089.7 L1072.0,1091.5 L1072.8,1093.2 L1073.8,1094.8 L1074.7,1096.5 L1075.7,1098.1 L1076.7,1099.7 L1077.7,1101.3 L1078.8,1102.9 L1079.9,1104.4 L1081.0,1105.9 L1082.2,1107.4 L1083.4,1108.8 L1084.7,1110.2 L1086.0,1111.5 L1087.3,1112.8 L1088.7,1114.1 L1090.2,1115.3 L1091.6,1116.5 L1093.2,1117.6 L1094.8,1118.7 L1096.4,1119.7 L1098.1,1120.6 L1099.8,1121.5 L1101.5,1122.4 L1103.3,1123.1 L1105.1,1123.7 L1107.0,1124.2 L1108.8,1124.7 L1110.6,1124.9 L1112.4,1125.1 L1114.3,1125.1 L1116.1,1125.0 L1117.9,1124.7 L1119.6,1124.2 L1121.4,1123.6 L1123.1,1122.8 L1124.7,1121.9 L1126.4,1120.9 L1128.0,1119.8 L1129.5,1118.6 L1131.1,1117.3 L1132.6,1116.0 L1134.1,1114.5 L1135.5,1113.1 L1136.9,1111.6 L1138.2,1110.1 L1139.5,1108.6 L1140.8,1107.2 L1142.0,1105.7 L1143.2,1104.2 L1144.4,1102.8 L1145.5,1101.4 L1146.7,1100.0 L1147.8,1098.6 L1148.9,1097.2 L1150.0,1095.8 L1151.2,1094.4 L1152.3,1093.0 L1153.5,1091.6 L1154.7,1090.2 L1156.0,1088.8 L1157.3,1087.3 L1158.6,1085.8 L1160.0,1084.3 L1161.5,1082.8 L1163.0,1081.3 L1164.6,1080.0 L1166.2,1078.8 L1167.9,1077.9 L1169.6,1077.3 L1171.3,1077.2 L1173.1,1077.5 L1174.8,1078.1 L1176.5,1079.0 L1178.2,1080.1 L1179.8,1081.3 L1181.4,1082.5 L1182.9,1083.8 L1184.3,1085.1 L1185.7,1086.4 L1187.0,1087.8 L1188.3,1089.2 L1189.5,1090.6 L1190.7,1092.0 L1191.8,1093.5 L1192.9,1095.0 L1194.0,1096.5 L1195.0,1098.0 L1196.0,1099.6 L1197.0,1101.2 L1197.9,1102.8 L1198.8,1104.5 L1199.7,1106.1 L1200.6,1107.8 L1201.5,1109.5 L1202.3,1111.2 L1203.2,1113.0 L1204.0,1114.7 L1204.8,1116.5 L1205.7,1118.3 L1206.5,1120.1 L1207.3,1121.9 L1208.2,1123.7 L1209.1,1125.4 L1210.0,1127.2 L1210.9,1128.9 L1211.8,1130.6 L1212.8,1132.3 L1213.8,1133.9 L1214.8,1135.5 L1215.9,1137.1 L1217.0,1138.6 L1218.2,1140.0 L1219.4,1141.4 L1220.7,1142.7 L1222.0,1143.9 L1223.4,1145.1 L1224.8,1146.2 L1226.3,1147.2 L1227.9,1148.1 L1229.6,1148.9 L1231.3,1149.6 L1233.1,1150.2 L1235.0,1150.6 L1237.0,1151.0 L1237.0,1151.0 L1496.0,1151.0" stroke="#0070E0"/>
</g>
<line x1="178.3" y1="71.5" x2="306.7" y2="71.5" stroke="#737373" stroke-width="6.8" stroke-linecap="round" shape-rendering="crispEdges"/>
<text x="319.5" y="91" font-family="&quot;Liberation Serif&quot;, serif" font-size="58">Cement</text>
<line x1="178.3" y1="162" x2="306.7" y2="162" stroke="#FE3C3C" stroke-width="6.2" stroke-linecap="round" shape-rendering="crispEdges"/>
<text x="319.5" y="182" font-family="&quot;Liberation Serif&quot;, serif" font-size="58">Fly ash</text>
<line x1="178.3" y1="252.5" x2="306.7" y2="252.5" stroke="#0070E0" stroke-width="6.8" stroke-linecap="round" shape-rendering="crispEdges"/>
<text x="319.5" y="272.5" font-family="&quot;Liberation Serif&quot;, serif" font-size="58">Grade slag</text>
</svg></body></html>
